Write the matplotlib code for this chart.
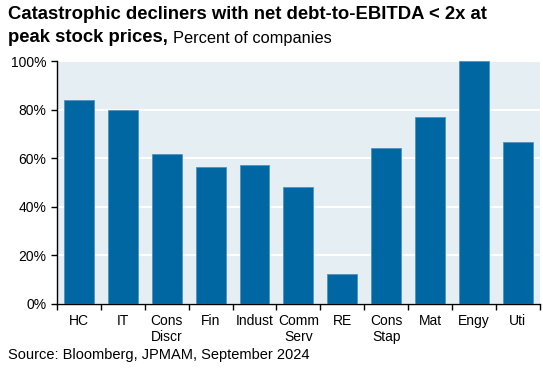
import matplotlib
matplotlib.use("Agg")
import matplotlib.pyplot as plt
from matplotlib.ticker import PercentFormatter, FixedLocator

categories = ["HC", "IT", "Cons\nDiscr", "Fin", "Indust", "Comm\nServ", "RE", "Cons\nStap", "Mat", "Engy", "Uti"]
values = [84, 80, 61.7, 56.4, 57.2, 48, 12.3, 64.3, 77, 100, 66.5]
yticks = [0, 20, 40, 60, 80, 100]

plt.rcParams['font.family'] = ['Liberation Sans', 'DejaVu Sans']

fig = plt.figure(figsize=(5.43, 3.68), dpi=100)
ax = fig.add_axes([0.105, 0.174, 0.889, 0.66])
ax.set_facecolor('#E5EEF2')
x = range(len(categories))
ax.bar(x, values, width=0.68, color='#0067A3', edgecolor='#4F93C0', linewidth=0.6, zorder=3)
ax.set_xlim(-0.5, len(categories) - 0.5)
ax.set_ylim(0, 100)
ax.set_yticks(yticks)
ax.yaxis.set_major_formatter(PercentFormatter(decimals=0))
ax.grid(axis='y', color='white', linewidth=1.5, zorder=1)
ax.set_xticks(list(x))
ax.set_xticklabels(categories, fontsize=10, va='top', linespacing=1.25)
ax.tick_params(axis='x', length=0, pad=7)
ax.xaxis.set_minor_locator(FixedLocator([i - 0.5 for i in range(len(categories) + 1)]))
ax.tick_params(axis='x', which='minor', length=4, width=1, direction='out', color='black')
ax.tick_params(axis='y', labelsize=10, length=4, width=1, color='black')
for s in ['top', 'right']:
    ax.spines[s].set_visible(False)
for s in ['left', 'bottom']:
    ax.spines[s].set_color('black')
    ax.spines[s].set_linewidth(1)

fig.text(0.015, 0.985, "Catastrophic decliners with net debt-to-EBITDA < 2x at", fontsize=13.3, fontweight='bold', va='top', ha='left')
t2 = fig.text(0.015, 0.92, "peak stock prices,", fontsize=13.3, fontweight='bold', va='top', ha='left')
fig.canvas.draw()
bb = t2.get_window_extent(renderer=fig.canvas.get_renderer())
x_px = bb.x1 + 5
fig.text(x_px / fig.bbox.width, 0.917, "Percent of companies", fontsize=11.8, va='top', ha='left')
fig.text(0.015, 0.015, "Source: Bloomberg, JPMAM, September 2024", fontsize=10.5, va='bottom', ha='left')

fig.savefig("out.png", dpi=100)
